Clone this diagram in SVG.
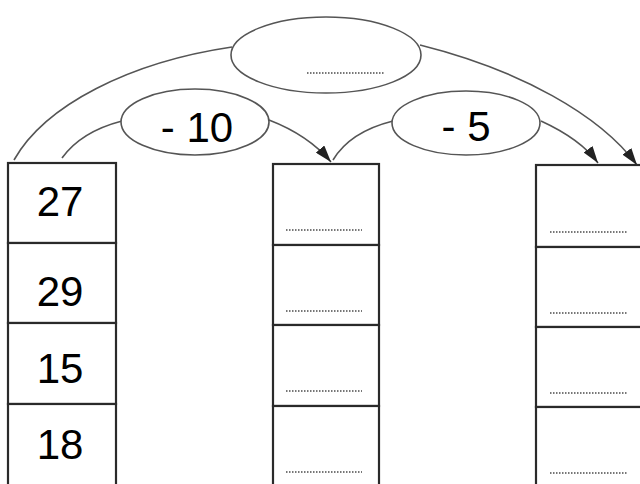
<svg xmlns="http://www.w3.org/2000/svg" width="640" height="484" viewBox="0 0 640 484">
<style>
.cell{fill:#fff;stroke:#2a2a2a;stroke-width:2.2}
.oval{fill:#fff;stroke:#555;stroke-width:1.6}
.conn{fill:none;stroke:#555;stroke-width:1.6}
.num{font-family:"Liberation Sans",Arial,sans-serif;font-size:42px;fill:#000;text-anchor:middle}
.dots{stroke:#777;stroke-width:1.8;stroke-dasharray:1.5 1.5}
</style>
<defs>
<marker id="arr" markerUnits="userSpaceOnUse" markerWidth="17" markerHeight="11" refX="17" refY="5.5" orient="auto">
<path d="M0,0 L17,5.5 L0,11 z" fill="#222"/>
</marker>
</defs>
<rect width="640" height="484" fill="#fff"/>
<g id="connectors">
<path class="conn" d="M14,160 C45,105 130,62 232,47"/>
<path class="conn" d="M420,45 C520,70 600,115 637,165" marker-end="url(#arr)"/>
<path class="conn" d="M62,158 C75,140 95,128 122,121"/>
<path class="conn" d="M269,120 C295,130 315,143 331,162" marker-end="url(#arr)"/>
<path class="conn" d="M333,160 C345,140 365,128 393,121"/>
<path class="conn" d="M541,121 C565,132 585,145 598,163" marker-end="url(#arr)"/>
</g>
<g id="op-total">
<ellipse class="oval" cx="326" cy="55" rx="95" ry="38"/>
<line class="dots" x1="307" y1="73" x2="384" y2="73"/>
</g>
<g id="op-minus10">
<ellipse class="oval" cx="195" cy="122" rx="74" ry="33"/>
<text class="num" x="197" y="142">- 10</text>
</g>
<g id="op-minus5">
<ellipse class="oval" cx="466" cy="123" rx="74" ry="32"/>
<text class="num" x="466" y="141">- 5</text>
</g>
<g id="a1"><rect class="cell" x="8" y="163" width="108" height="80"/><text class="num" x="60" y="216">27</text></g>
<g id="a2"><rect class="cell" x="8" y="243" width="108" height="80"/><text class="num" x="60" y="306">29</text></g>
<g id="a3"><rect class="cell" x="8" y="323" width="108" height="81"/><text class="num" x="60" y="383">15</text></g>
<g id="a4"><rect class="cell" x="8" y="404" width="108" height="85"/><text class="num" x="60" y="459">18</text></g>
<g id="b1"><rect class="cell" x="273" y="164" width="106" height="81"/><line class="dots" x1="286" y1="230" x2="362" y2="230"/></g>
<g id="b2"><rect class="cell" x="273" y="245" width="106" height="80"/><line class="dots" x1="286" y1="311" x2="362" y2="311"/></g>
<g id="b3"><rect class="cell" x="273" y="325" width="106" height="81"/><line class="dots" x1="286" y1="391" x2="362" y2="391"/></g>
<g id="b4"><rect class="cell" x="273" y="406" width="106" height="85"/><line class="dots" x1="286" y1="472" x2="362" y2="472"/></g>
<g id="c1"><rect class="cell" x="536" y="165" width="112" height="82"/><line class="dots" x1="550" y1="232" x2="627" y2="232"/></g>
<g id="c2"><rect class="cell" x="536" y="247" width="112" height="80"/><line class="dots" x1="550" y1="313" x2="627" y2="313"/></g>
<g id="c3"><rect class="cell" x="536" y="327" width="112" height="80"/><line class="dots" x1="550" y1="393" x2="627" y2="393"/></g>
<g id="c4"><rect class="cell" x="536" y="407" width="112" height="85"/><line class="dots" x1="550" y1="473" x2="627" y2="473"/></g>
</svg>
